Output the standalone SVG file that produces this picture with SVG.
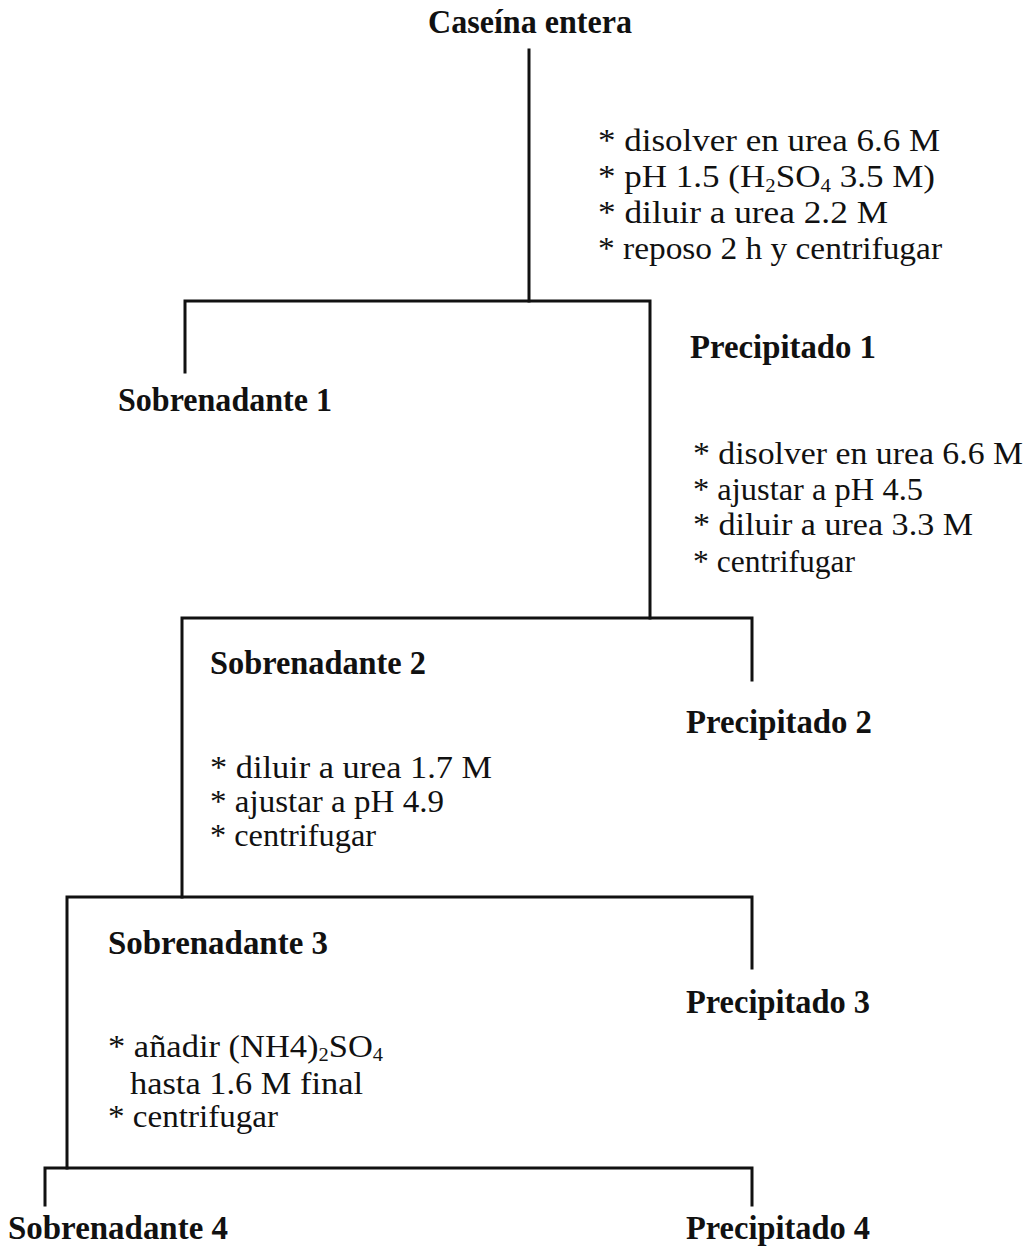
<svg xmlns="http://www.w3.org/2000/svg" width="1031" height="1248" viewBox="0 0 1031 1248">
<style>
text{font-family:"Liberation Serif","Times New Roman",serif;fill:#111;}
.b{font-weight:bold;font-size:33px;}
.r{font-size:32px;}
.s{font-size:19px;}
.ln{stroke:#111;stroke-width:3;fill:none;stroke-linecap:square;}
</style>
<g id="connectors">
<path class="ln" d="M529,50 V301"/>
<path class="ln" d="M185,372 V301 H650 V618"/>
<path class="ln" d="M182,897 V618 H752 V680"/>
<path class="ln" d="M67,1168 V897 H752 V968"/>
<path class="ln" d="M45,1205 V1168 H752 V1205"/>
</g>
<g id="caseina"><text class="b" x="428" y="33" textLength="204" lengthAdjust="spacingAndGlyphs">Caseína entera</text></g>
<g id="step1">
<text class="r" x="598" y="151" textLength="342" lengthAdjust="spacingAndGlyphs">* disolver en urea 6.6 M</text>
<text class="r" x="598" y="187" textLength="337" lengthAdjust="spacingAndGlyphs">* pH 1.5 (H<tspan class="s" dy="5">2</tspan><tspan dy="-5">SO</tspan><tspan class="s" dy="5">4</tspan><tspan dy="-5"> 3.5 M)</tspan></text>
<text class="r" x="598" y="223" textLength="290" lengthAdjust="spacingAndGlyphs">* diluir a urea 2.2 M</text>
<text class="r" x="598" y="259" textLength="344" lengthAdjust="spacingAndGlyphs">* reposo 2 h y centrifugar</text>
</g>
<g id="sobrenadante1"><text class="b" x="118" y="411" textLength="214" lengthAdjust="spacingAndGlyphs">Sobrenadante 1</text></g>
<g id="precipitado1"><text class="b" x="690" y="358" textLength="186" lengthAdjust="spacingAndGlyphs">Precipitado 1</text></g>
<g id="step2">
<text class="r" x="693" y="464" textLength="330" lengthAdjust="spacingAndGlyphs">* disolver en urea 6.6 M</text>
<text class="r" x="693" y="500" textLength="230" lengthAdjust="spacingAndGlyphs">* ajustar a pH 4.5</text>
<text class="r" x="693" y="535" textLength="280" lengthAdjust="spacingAndGlyphs">* diluir a urea 3.3 M</text>
<text class="r" x="693" y="572" textLength="162" lengthAdjust="spacingAndGlyphs">* centrifugar</text>
</g>
<g id="sobrenadante2"><text class="b" x="210" y="674" textLength="216" lengthAdjust="spacingAndGlyphs">Sobrenadante 2</text></g>
<g id="precipitado2"><text class="b" x="686" y="733" textLength="186" lengthAdjust="spacingAndGlyphs">Precipitado 2</text></g>
<g id="step3">
<text class="r" x="210" y="778" textLength="282" lengthAdjust="spacingAndGlyphs">* diluir a urea 1.7 M</text>
<text class="r" x="210" y="812" textLength="234" lengthAdjust="spacingAndGlyphs">* ajustar a pH 4.9</text>
<text class="r" x="210" y="846" textLength="166" lengthAdjust="spacingAndGlyphs">* centrifugar</text>
</g>
<g id="sobrenadante3"><text class="b" x="108" y="954" textLength="220" lengthAdjust="spacingAndGlyphs">Sobrenadante 3</text></g>
<g id="precipitado3"><text class="b" x="686" y="1013" textLength="184" lengthAdjust="spacingAndGlyphs">Precipitado 3</text></g>
<g id="step4">
<text class="r" x="108" y="1057" textLength="275" lengthAdjust="spacingAndGlyphs">* añadir (NH4)<tspan class="s" dy="4">2</tspan><tspan dy="-4">SO</tspan><tspan class="s" dy="4">4</tspan></text>
<text class="r" x="130" y="1094" textLength="233" lengthAdjust="spacingAndGlyphs">hasta 1.6 M final</text>
<text class="r" x="108" y="1127" textLength="170" lengthAdjust="spacingAndGlyphs">* centrifugar</text>
</g>
<g id="sobrenadante4"><text class="b" x="8" y="1239" textLength="220" lengthAdjust="spacingAndGlyphs">Sobrenadante 4</text></g>
<g id="precipitado4"><text class="b" x="686" y="1239" textLength="184" lengthAdjust="spacingAndGlyphs">Precipitado 4</text></g>
</svg>
